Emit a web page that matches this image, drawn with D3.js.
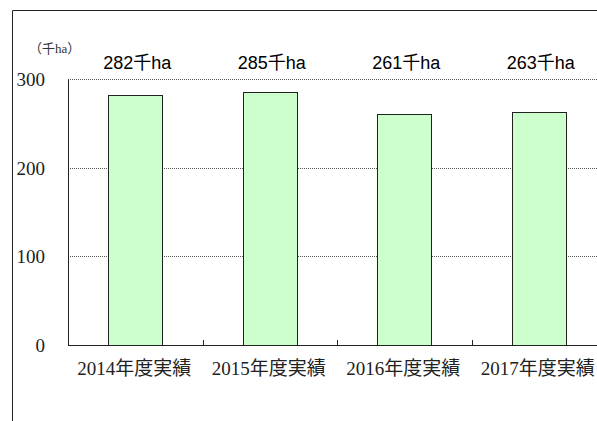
<!DOCTYPE html>
<meta charset="utf-8">
<style>
body { margin: 0; background: white; }
svg { display: block; }
.serif { font-family: "Liberation Serif", "DejaVu Serif", "Noto Sans CJK JP", serif; }
.sans { font-family: "Liberation Sans", Arial, "Noto Sans CJK JP", sans-serif; }
</style>
<svg width="597" height="421"></svg>
<script src="https://d3js.org/d3.v7.min.js"></script>
<script>

var categories = ["2014年度実績", "2015年度実績", "2016年度実績", "2017年度実績"];
var values = [282, 285, 261, 263];
var valueLabels = ["282千ha", "285千ha", "261千ha", "263千ha"];
var yTicks = [0, 100, 200, 300];
var unitLabel = "（千ha）";

var svg = d3.select("svg");
svg.append("rect").attr("width", 597).attr("height", 421).attr("fill", "white");

// outer frame (right/bottom run off the picture)
svg.append("path")
    .attr("d", "M12.5,421V10.5H600")
    .attr("fill", "none")
    .attr("stroke", "#222")
    .attr("stroke-width", 1);

var plotLeft = 68, plotRight = 606, plotTop = 79, plotBottom = 345;

var x = d3.scaleBand().domain(categories).range([plotLeft, plotRight]).paddingInner(0.6).paddingOuter(0.3);
var xOuter = d3.scaleBand().domain(categories).range([plotLeft, plotRight]);
var y = d3.scaleLinear().domain([0, 300]).range([plotBottom, plotTop]);

// gridlines
svg.append("g")
    .selectAll("line")
    .data(yTicks.filter(function(d) { return d > 0; }))
    .enter().append("line")
    .attr("x1", plotLeft).attr("x2", plotRight)
    .attr("y1", function(d) { return Math.round(y(d)) + 0.5; })
    .attr("y2", function(d) { return Math.round(y(d)) + 0.5; })
    .attr("stroke", "#555")
    .attr("stroke-dasharray", "1,1");

// y axis line
svg.append("line")
    .attr("x1", plotLeft + 0.5).attr("x2", plotLeft + 0.5)
    .attr("y1", Math.round(y(300)) + 0.5).attr("y2", plotBottom)
    .attr("stroke", "#222");

// bars
svg.append("g")
    .selectAll("rect")
    .data(values)
    .enter().append("rect")
    .attr("x", function(d, i) { return Math.round(x(categories[i])) + 0.5; })
    .attr("y", function(d) { return Math.round(y(d)) + 0.5; })
    .attr("width", Math.round(x.bandwidth()))
    .attr("height", function(d) { return Math.round(y(0)) - Math.round(y(d)); })
    .attr("fill", "#ccffcc")
    .attr("stroke", "#222");

// x axis line and ticks between categories
svg.append("line")
    .attr("x1", plotLeft).attr("x2", plotRight)
    .attr("y1", plotBottom + 0.5).attr("y2", plotBottom + 0.5)
    .attr("stroke", "#222");
svg.append("g")
    .selectAll("line")
    .data(categories.slice(1))
    .enter().append("line")
    .attr("x1", function(d) { return Math.round(xOuter(d)) + 0.5; })
    .attr("x2", function(d) { return Math.round(xOuter(d)) + 0.5; })
    .attr("y1", plotBottom - 5).attr("y2", plotBottom)
    .attr("stroke", "#222");

// y tick labels
svg.append("g")
    .selectAll("text")
    .data(yTicks)
    .enter().append("text")
    .attr("class", "serif")
    .attr("x", 45)
    .attr("y", function(d) { return y(d) + 7; })
    .attr("text-anchor", "end")
    .attr("font-size", "19px")
    .attr("fill", "#222")
    .text(function(d) { return d; });

// unit label
svg.append("text")
    .attr("class", "serif")
    .attr("x", 29).attr("y", 53)
    .attr("font-size", "13px")
    .attr("fill", "#333")
    .text(unitLabel);

// category labels
svg.append("g")
    .selectAll("text")
    .data(categories)
    .enter().append("text")
    .attr("class", "serif")
    .attr("x", function(d) { return xOuter(d) + xOuter.bandwidth() / 2 - 1; })
    .attr("y", 375)
    .attr("text-anchor", "middle")
    .attr("font-size", "19px")
    .attr("fill", "#222")
    .text(function(d) { return d; });

// value labels
svg.append("g")
    .selectAll("text")
    .data(valueLabels)
    .enter().append("text")
    .attr("class", "sans")
    .attr("x", function(d, i) { return x(categories[i]) + x.bandwidth() / 2 + 2; })
    .attr("y", 69)
    .attr("text-anchor", "middle")
    .attr("font-size", "18px")
    .attr("fill", "#000")
    .text(function(d) { return d; });

</script>
